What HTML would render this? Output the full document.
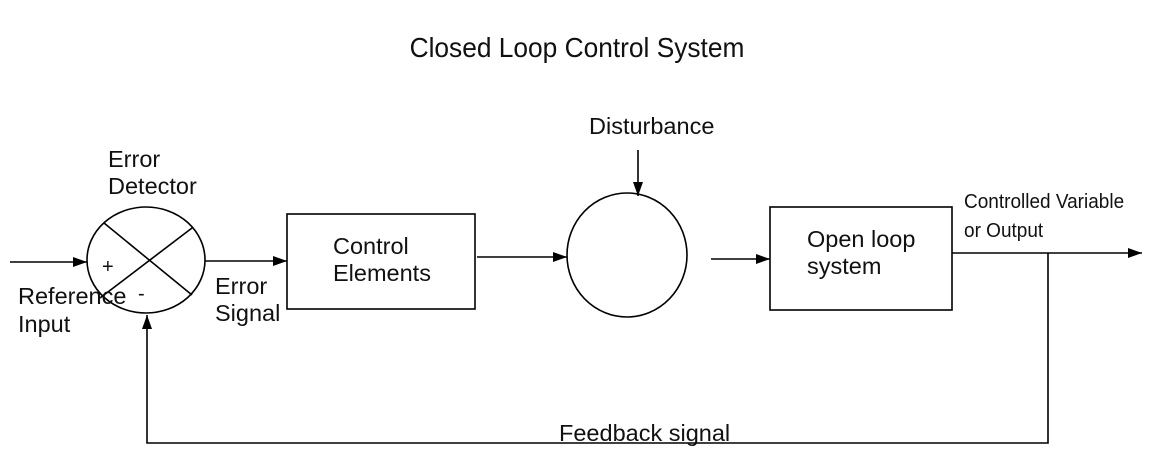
<!DOCTYPE html>
<html><head><meta charset="utf-8"><style>
html,body{margin:0;padding:0;background:#fff;}
svg{display:block;}
text{font-family:"Liberation Sans",sans-serif;fill:#111;}
</style></head><body>
<svg width="1150" height="473" viewBox="0 0 1150 473" xmlns="http://www.w3.org/2000/svg">
<defs><marker id="a" markerWidth="14" markerHeight="10" refX="14" refY="5" orient="auto" markerUnits="userSpaceOnUse"><path d="M0,0 L14,5 L0,10 z" fill="#000"/></marker></defs>
<text x="577" y="57" font-size="28" text-anchor="middle" transform="translate(577,0) scale(0.94,1) translate(-577,0)">Closed Loop Control System</text>
<g stroke="#000" stroke-width="1.6" fill="none">
<ellipse cx="146" cy="260" rx="59" ry="53"/>
<line x1="104" y1="223" x2="192" y2="295"/>
<line x1="100" y1="298" x2="192" y2="228"/>
<line x1="10" y1="262" x2="87" y2="262" marker-end="url(#a)"/>
<line x1="205" y1="261" x2="287" y2="261" marker-end="url(#a)"/>
<rect x="287" y="214" width="188" height="95"/>
<line x1="477" y1="257" x2="567" y2="257" marker-end="url(#a)"/>
<ellipse cx="627" cy="255" rx="60" ry="62"/>
<line x1="638" y1="150" x2="638" y2="196" marker-end="url(#a)"/>
<line x1="711" y1="259" x2="770" y2="259" marker-end="url(#a)"/>
<rect x="770" y="207" width="182" height="103"/>
<line x1="952" y1="253" x2="1142" y2="253" marker-end="url(#a)"/>
<polyline points="1048,253 1048,443 147,443 147,315" marker-end="url(#a)"/>
</g>
<g font-size="23.5">
<text x="108" y="167">Error</text>
<text x="108" y="194">Detector</text>
<text x="102" y="273" font-size="20">+</text>
<text x="138" y="300" font-size="20">-</text>
<text x="18" y="304">Reference</text>
<text x="18" y="332">Input</text>
<text x="215" y="294">Error</text>
<text x="215" y="321">Signal</text>
<text x="333" y="254">Control</text>
<text x="333" y="281">Elements</text>
<text x="589" y="134">Disturbance</text>
<text x="807" y="247">Open loop</text>
<text x="807" y="274">system</text>
<text x="559" y="441">Feedback signal</text>
</g>
<g font-size="20" transform="translate(964,0) scale(0.95,1)">
<text x="0" y="208">Controlled Variable</text>
<text x="0" y="237">or Output</text>
</g>
</svg>
</body></html>
